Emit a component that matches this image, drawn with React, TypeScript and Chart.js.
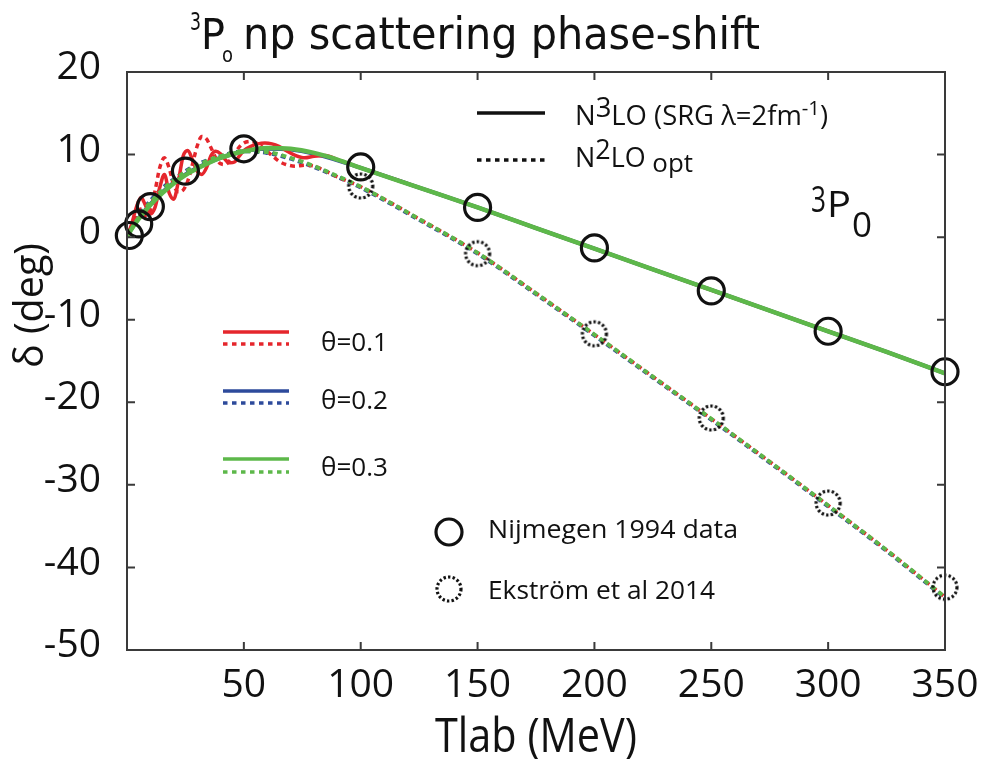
import React, { useEffect, useRef } from 'react';
import { Chart, registerables } from 'chart.js';

Chart.register(...registerables);

// ---------- data ----------
const xTickValues = [0, 50, 100, 150, 200, 250, 300, 350];
const yTickValues = [-50, -40, -30, -20, -10, 0, 10, 20];

const energySmooth = [0, 2, 5, 10, 15, 20, 25, 30, 40, 50, 60, 70, 80, 90, 100, 125, 150, 175, 200, 225, 250, 275, 300, 325, 350];
const n3loTheta03 = [0, 1.0, 2.2, 3.9, 5.3, 6.5, 7.5, 8.3, 9.6, 10.4, 10.8, 10.7, 10.2, 9.4, 8.4, 6.0, 3.6, 1.1, -1.4, -3.9, -6.4, -8.9, -11.4, -13.9, -16.5];
const n3loTheta02 = [0, 1.1, 2.3, 4.0, 5.4, 6.6, 7.6, 8.4, 9.6, 10.4, 10.7, 10.6, 10.1, 9.3, 8.4, 6.0, 3.6, 1.1, -1.4, -3.9, -6.4, -8.9, -11.4, -13.9, -16.5];
const n2loTheta03 = [0, 1.0, 2.4, 4.2, 5.7, 6.9, 7.9, 8.7, 9.8, 10.4, 10.3, 9.6, 8.6, 7.4, 6.1, 2.2, -1.9, -6.8, -11.8, -16.9, -22.0, -27.2, -32.5, -37.9, -43.6];
const n2loTheta02 = [0, 1.1, 2.6, 4.4, 5.9, 7.0, 8.0, 8.8, 9.8, 10.4, 10.2, 9.5, 8.5, 7.3, 6.0, 2.1, -2.0, -6.9, -11.9, -17.0, -22.1, -27.3, -32.6, -38.0, -43.7];

const energyOsc = [0, 2, 4, 6, 8, 10, 12, 14, 16, 18, 20, 22, 24, 26, 28, 30, 32, 34, 36, 38, 40, 42, 44, 46, 48, 50, 53, 56, 59, 62, 65, 68, 72, 76, 80, 85, 90, 95, 100, 125, 150, 175, 200, 225, 250, 275, 300, 325, 350];
const n3loTheta01 = [0, 1.6, 3.6, 4.8, 3.8, 2.8, 3.6, 6.0, 7.6, 5.4, 4.6, 6.8, 9.8, 10.5, 9.4, 8.0, 7.6, 8.4, 9.9, 10.4, 10.1, 9.4, 9.0, 9.1, 9.8, 10.5, 11.0, 11.3, 11.4, 11.3, 11.0, 10.5, 9.9, 9.6, 9.8, 9.9, 9.4, 8.9, 8.4, 6.0, 3.6, 1.1, -1.4, -3.9, -6.4, -8.9, -11.4, -13.9, -16.5];
const n2loTheta01 = [0, 1.0, 2.6, 3.4, 2.6, 3.2, 5.6, 8.4, 9.6, 8.4, 6.3, 5.5, 5.7, 6.8, 8.8, 11.0, 12.2, 11.9, 10.8, 9.6, 8.9, 8.8, 9.3, 10.1, 10.9, 11.4, 11.6, 11.3, 10.6, 9.9, 9.2, 8.8, 8.6, 8.7, 8.6, 8.0, 7.3, 6.7, 6.1, 2.2, -1.9, -6.8, -11.8, -16.9, -22.0, -27.2, -32.5, -37.9, -43.6];

const nijmegenEnergy = [1, 5, 10, 25, 50, 100, 150, 200, 250, 300, 350];
const nijmegenDelta = [0.2, 1.6, 3.7, 8.0, 10.7, 8.5, 3.6, -1.3, -6.5, -11.4, -16.3];
const ekstromEnergy = [100, 150, 200, 250, 300, 350];
const ekstromDelta = [6.2, -2.0, -11.7, -21.9, -32.2, -42.4];

// ---------- styles ----------
const RED = '#e5262c';
const BLUE = '#2d4a9b';
const GREEN = '#5db84a';
const DASH = [5, 4];
const SANS = "'Open Sans', 'Noto Sans', 'DejaVu Sans', sans-serif";
const TITLE_FONT = "'DejaVu Sans', 'Noto Sans', sans-serif";

type Seg = { t: string; size: number; dy?: number; family?: string };

function drawRich(ctx: CanvasRenderingContext2D, segs: Seg[], x: number, y: number, width: number) {
  ctx.save();
  let total = 0;
  for (const s of segs) {
    ctx.font = `${s.size}px ${s.family || SANS}`;
    total += ctx.measureText(s.t).width;
  }
  const k = width / total;
  ctx.translate(x, y);
  ctx.scale(k, 1);
  ctx.textAlign = 'left';
  ctx.textBaseline = 'alphabetic';
  ctx.fillStyle = '#111';
  let cx = 0;
  for (const s of segs) {
    ctx.font = `${s.size}px ${s.family || SANS}`;
    ctx.fillText(s.t, cx, s.dy || 0);
    cx += ctx.measureText(s.t).width;
  }
  ctx.restore();
}

function dottedCircle(ctx: CanvasRenderingContext2D, cx: number, cy: number, r: number) {
  ctx.save();
  ctx.strokeStyle = '#111';
  ctx.lineWidth = 3.2;
  ctx.setLineDash([2.4, 2.2]);
  ctx.beginPath();
  ctx.arc(cx, cy, r, 0, Math.PI * 2);
  ctx.stroke();
  ctx.restore();
}

function makeDottedMarker(): HTMLCanvasElement {
  const c = document.createElement('canvas');
  c.width = 32;
  c.height = 32;
  const ctx = c.getContext('2d')!;
  dottedCircle(ctx, 16, 16, 12);
  return c;
}

function line(ctx: CanvasRenderingContext2D, x1: number, x2: number, y: number, color: string, dashed: boolean, w = 3.5) {
  ctx.save();
  ctx.strokeStyle = color;
  ctx.lineWidth = w;
  ctx.setLineDash(dashed ? [4.5, 4.5] : []);
  ctx.beginPath();
  ctx.moveTo(x1, y);
  ctx.lineTo(x2, y);
  ctx.stroke();
  ctx.restore();
}

const pts = (xs: number[], ys: number[]) => xs.map((x, i) => ({ x, y: ys[i] }));

const decorPlugin = {
  id: 'decor',
  afterDraw(chart: any) {
    const ctx: CanvasRenderingContext2D = chart.ctx;
    const { left, right, top, bottom } = chart.chartArea;
    const xs = chart.scales.x;
    const ys = chart.scales.y;

    // frame
    ctx.save();
    ctx.strokeStyle = '#3a3a3a';
    ctx.lineWidth = 2;
    ctx.strokeRect(left, top, right - left, bottom - top);
    const tl = 8;
    for (const v of xTickValues) {
      if (v <= xs.min || v >= xs.max) continue;
      const px = xs.getPixelForValue(v);
      ctx.beginPath();
      ctx.moveTo(px, bottom);
      ctx.lineTo(px, bottom - tl);
      ctx.moveTo(px, top);
      ctx.lineTo(px, top + tl);
      ctx.stroke();
    }
    for (const v of yTickValues) {
      if (v <= ys.min || v >= ys.max) continue;
      const py = ys.getPixelForValue(v);
      ctx.beginPath();
      ctx.moveTo(left, py);
      ctx.lineTo(left + tl, py);
      ctx.moveTo(right, py);
      ctx.lineTo(right - tl, py);
      ctx.stroke();
    }
    ctx.restore();

    // title
    drawRich(ctx, [{ t: '3', size: 24, dy: -18, family: TITLE_FONT }], 190, 48, 11);
    drawRich(ctx, [{ t: 'P', size: 42, family: TITLE_FONT }], 201, 49, 24);
    drawRich(ctx, [{ t: 'o', size: 22, dy: 12, family: TITLE_FONT }], 222, 50, 11);
    drawRich(ctx, [{ t: 'np scattering phase-shift', size: 44, family: TITLE_FONT }], 243, 49, 517);

    // axis titles
    drawRich(ctx, [{ t: 'Tlab (MeV)', size: 47 }], 435, 752, 202);
    ctx.save();
    ctx.translate(43, 305.5);
    ctx.rotate(-Math.PI / 2);
    drawRich(ctx, [{ t: 'δ (deg)', size: 40 }], -62.5, 0, 125);
    ctx.restore();

    // top legend
    line(ctx, 477, 545, 113, '#111', false, 3.5);
    drawRich(ctx, [
      { t: 'N', size: 27 },
      { t: '3', size: 27, dy: -8 },
      { t: 'LO (SRG λ=2fm', size: 27 },
      { t: '-1', size: 20, dy: -10 },
      { t: ')', size: 27 },
    ], 575, 125, 253);
    line(ctx, 477, 545, 160, '#111', true, 3.5);
    drawRich(ctx, [
      { t: 'N', size: 27 },
      { t: '2', size: 27, dy: -8 },
      { t: 'LO', size: 27 },
      { t: ' opt', size: 26, dy: 5 },
    ], 575, 167, 118);

    // 3P0 label
    drawRich(ctx, [{ t: '3', size: 36 }], 811, 212, 15);
    drawRich(ctx, [{ t: 'P', size: 36 }], 827, 217, 24);
    drawRich(ctx, [{ t: '0', size: 34 }], 852, 237, 20);

    // theta legend
    const thetas: [string, string, number, number, number][] = [
      ['θ=0.1', RED, 332, 344, 351],
      ['θ=0.2', BLUE, 391, 403, 409],
      ['θ=0.3', GREEN, 459, 472, 476],
    ];
    for (const [label, color, y1, y2, yb] of thetas) {
      line(ctx, 223, 289, y1, color, false, 3.5);
      line(ctx, 223, 289, y2, color, true, 3.5);
      drawRich(ctx, [{ t: label, size: 26 }], 321, yb, 67);
    }

    // marker legend
    ctx.save();
    ctx.strokeStyle = '#111';
    ctx.lineWidth = 3.2;
    ctx.beginPath();
    ctx.arc(449, 532, 13, 0, Math.PI * 2);
    ctx.stroke();
    ctx.restore();
    drawRich(ctx, [{ t: 'Nijmegen 1994 data', size: 25 }], 488, 538, 250);
    dottedCircle(ctx, 449, 589, 12);
    drawRich(ctx, [{ t: 'Ekström et al 2014', size: 25 }], 488, 599, 227);
  },
};

export default function App() {
  const ref = useRef<HTMLCanvasElement | null>(null);

  useEffect(() => {
    document.body.style.margin = '0';
    const canvas = ref.current!;
    const dotted = makeDottedMarker();

    const curve = (data: { x: number; y: number }[], color: string, dashed: boolean, width: number) => ({
      type: 'scatter' as const,
      data,
      showLine: true,
      borderColor: color,
      backgroundColor: color,
      borderWidth: width,
      borderDash: dashed ? DASH : [],
      pointRadius: 0,
      pointHoverRadius: 0,
      cubicInterpolationMode: 'monotone' as const,
      fill: false,
    });

    const chart = new Chart(canvas, {
      type: 'scatter',
      data: {
        datasets: [
          {
            label: 'Nijmegen 1994 data',
            data: pts(nijmegenEnergy, nijmegenDelta),
            showLine: false,
            clip: false,
            pointStyle: 'circle',
            pointRadius: 13,
            pointBorderWidth: 3.2,
            pointBorderColor: '#111',
            pointBackgroundColor: 'rgba(0,0,0,0)',
          } as any,
          {
            label: 'Ekström et al 2014',
            data: pts(ekstromEnergy, ekstromDelta),
            showLine: false,
            clip: false,
            pointStyle: dotted,
            pointRadius: 13,
          } as any,
          { label: 'N3LO θ=0.3', ...curve(pts(energySmooth, n3loTheta03), GREEN, false, 4.5) },
          { label: 'N2LO θ=0.3', ...curve(pts(energySmooth, n2loTheta03), GREEN, true, 4) },
          { label: 'N3LO θ=0.1', ...curve(pts(energyOsc, n3loTheta01), RED, false, 3.5) },
          { label: 'N2LO θ=0.1', ...curve(pts(energyOsc, n2loTheta01), RED, true, 3.5) },
          { label: 'N2LO θ=0.2', ...curve(pts(energySmooth, n2loTheta02), BLUE, true, 4) },
          { label: 'N3LO θ=0.2', ...curve(pts(energySmooth, n3loTheta02), BLUE, false, 4) },
        ],
      },
      options: {
        animation: false,
        responsive: false,
        devicePixelRatio: 1,
        events: [],
        layout: { padding: { left: 0, right: 46, top: 72, bottom: 0 } },
        plugins: { legend: { display: false }, tooltip: { enabled: false }, title: { display: false } },
        scales: {
          x: {
            type: 'linear',
            min: 0,
            max: 350,
            afterBuildTicks: (s: any) => { s.ticks = xTickValues.map((v) => ({ value: v })); },
            afterFit: (s: any) => { s.height = 109; },
            grid: { display: false },
            border: { display: false },
            ticks: {
              color: '#111',
              padding: 4,
              maxRotation: 0,
              font: { family: SANS, size: 39 },
              callback: (v: any) => (v === 0 ? '' : String(v)),
            },
          },
          y: {
            type: 'linear',
            min: -50,
            max: 20,
            afterBuildTicks: (s: any) => { s.ticks = yTickValues.map((v) => ({ value: v })); },
            afterFit: (s: any) => { s.width = 127; },
            grid: { display: false },
            border: { display: false },
            ticks: {
              color: '#111',
              padding: 18,
              labelOffset: -4,
              font: { family: SANS, size: 39 },
              callback: (v: any) => String(v),
            },
          },
        },
      },
      plugins: [decorPlugin],
    });
    return () => chart.destroy();
  }, []);

  return (
    <div style={{ width: 991, height: 759, background: '#fff' }}>
      <canvas ref={ref} width={991} height={759} style={{ display: 'block' }} />
    </div>
  );
}
